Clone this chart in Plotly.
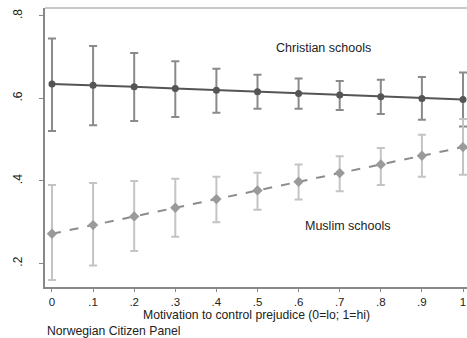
import plotly.graph_objects as go

x_vals = [0, 0.1, 0.2, 0.3, 0.4, 0.5, 0.6, 0.7, 0.8, 0.9, 1.0]
x_labels = ["0", ".1", ".2", ".3", ".4", ".5", ".6", ".7", ".8", ".9", "1"]

christian = [0.635, 0.632, 0.628, 0.624, 0.620, 0.616, 0.612, 0.608, 0.604, 0.600, 0.597]
christian_hi = [0.745, 0.727, 0.710, 0.690, 0.672, 0.657, 0.648, 0.642, 0.645, 0.652, 0.663]
christian_lo = [0.521, 0.535, 0.545, 0.555, 0.565, 0.575, 0.575, 0.572, 0.562, 0.548, 0.532]

muslim = [0.272, 0.293, 0.314, 0.335, 0.356, 0.377, 0.398, 0.419, 0.440, 0.461, 0.482]
muslim_hi = [0.390, 0.395, 0.400, 0.405, 0.410, 0.420, 0.440, 0.460, 0.480, 0.512, 0.550]
muslim_lo = [0.160, 0.195, 0.230, 0.265, 0.300, 0.330, 0.355, 0.375, 0.390, 0.410, 0.415]

y_ticks = [0.2, 0.4, 0.6, 0.8]
y_labels = [".2", ".4", ".6", ".8"]

FONT = "Liberation Sans, Arial, sans-serif"
TXT = 12.2

fig = go.Figure()

fig.add_trace(go.Scatter(
    x=x_vals, y=christian, mode="lines+markers",
    line=dict(color="#555555", width=2),
    marker=dict(symbol="circle", size=7, color="#555555"),
    error_y=dict(type="data", symmetric=False,
                 array=[h - m for h, m in zip(christian_hi, christian)],
                 arrayminus=[m - l for m, l in zip(christian, christian_lo)],
                 color="#8a8a8a", thickness=2, width=4),
    showlegend=False,
))

fig.add_trace(go.Scatter(
    x=x_vals, y=muslim, mode="lines+markers",
    line=dict(color="#8c8c8c", width=2, dash="dash"),
    marker=dict(symbol="diamond", size=8, color="#9a9a9a"),
    error_y=dict(type="data", symmetric=False,
                 array=[h - m for h, m in zip(muslim_hi, muslim)],
                 arrayminus=[m - l for m, l in zip(muslim, muslim_lo)],
                 color="#c4c4c4", thickness=2, width=4),
    showlegend=False,
))

fig.add_annotation(x=0.66, y=0.722, text="Christian schools", showarrow=False,
                   font=dict(family=FONT, size=12.5, color="#222222"))
fig.add_annotation(x=0.72, y=0.29, text="Muslim schools", showarrow=False,
                   font=dict(family=FONT, size=12.5, color="#222222"))
fig.add_annotation(xref="paper", yref="paper", x=0.5, y=-0.099,
                   text="Motivation to control prejudice (0=lo; 1=hi)", showarrow=False,
                   xanchor="center", yanchor="middle",
                   font=dict(family=FONT, size=TXT, color="#222222"))
fig.add_annotation(xref="paper", yref="paper", x=0.0, y=-0.156,
                   text="Norwegian Citizen Panel", showarrow=False,
                   xanchor="left", yanchor="middle",
                   font=dict(family=FONT, size=TXT, color="#222222"))

fig.add_shape(type="line", xref="paper", yref="paper", x0=0, x1=1, y0=1, y1=1,
              line=dict(color="#c8c8c8", width=2))

fig.update_layout(
    width=467, height=338,
    margin=dict(l=45, r=0, t=8, b=51),
    paper_bgcolor="white", plot_bgcolor="white",
    font=dict(family=FONT, size=11.5, color="#222222"),
    xaxis=dict(range=[-0.017, 1.0097], tickvals=x_vals, ticktext=x_labels,
               showgrid=False, zeroline=False, showline=True, linecolor="#888888",
               linewidth=2, ticks="outside", ticklen=3, tickcolor="#888888",
               tickfont=dict(family=FONT, size=11.5, color="#222222")),
    yaxis=dict(range=[0.143, 0.819], tickvals=y_ticks, ticktext=y_labels,
               showgrid=False, zeroline=False, showline=True, linecolor="#888888",
               linewidth=2, ticks="outside", ticklen=4, tickcolor="#888888",
               tickangle=-90, ticklabelstandoff=12,
               tickfont=dict(family=FONT, size=12, color="#222222")),
)

fig.write_html("out.html")
